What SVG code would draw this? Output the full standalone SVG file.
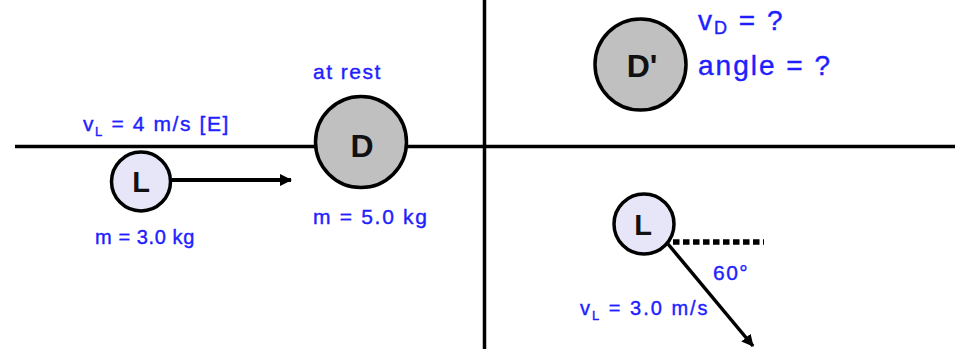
<svg xmlns="http://www.w3.org/2000/svg" width="955" height="349" viewBox="0 0 955 349">
  <defs>
    <marker id="ah" markerUnits="userSpaceOnUse" markerWidth="14" markerHeight="14" refX="11" refY="6" orient="auto">
      <path d="M0,0 L12,6 L0,12 z" fill="#000"/>
    </marker>
    <style>
      .ball { stroke: #000; stroke-width: 3.5; }
      .light { fill: #e6e6f8; }
      .gray { fill: #c0c0c0; }
      .nl { font-family: "Liberation Sans", Arial, sans-serif; font-weight: bold; fill: #111; text-anchor: middle; }
      .lbl { font-family: "Liberation Sans", Arial, sans-serif; fill: #1e1eff; stroke: #1e1eff; stroke-width: 0.4; }
      .ln { stroke: #000; stroke-width: 3.5; fill: none; }
    </style>
  </defs>
  <rect width="955" height="349" fill="#fff"/>

  <g id="axes">
    <line class="ln" x1="15" y1="146.5" x2="955" y2="146.5"/>
    <line class="ln" x1="484.5" y1="0" x2="484.5" y2="349"/>
  </g>

  <g id="connectors">
    <line x1="172" y1="180" x2="291" y2="180" stroke="#000" stroke-width="4" marker-end="url(#ah)"/>
    <line x1="668" y1="244" x2="753" y2="346" stroke="#000" stroke-width="3.5" marker-end="url(#ah)"/>
    <line x1="673" y1="242" x2="764" y2="242" stroke="#000" stroke-width="5.5" stroke-dasharray="6.5 3.5"/>
  </g>

  <g id="L-before">
    <circle class="ball light" cx="141" cy="181.5" r="29.5"/>
    <text class="nl" x="141" y="192" font-size="29">L</text>
  </g>

  <g id="D-before">
    <circle class="ball gray" cx="361" cy="142" r="45.5"/>
    <text class="nl" x="362" y="157" font-size="32">D</text>
  </g>

  <g id="D-after">
    <circle class="ball gray" cx="640.5" cy="64.5" r="45.5"/>
    <text class="nl" x="642" y="77" font-size="32">D'</text>
  </g>

  <g id="L-after">
    <circle class="ball light" cx="644" cy="224" r="30"/>
    <text class="nl" x="643" y="235" font-size="29">L</text>
  </g>

  <g id="labels">
    <text class="lbl" x="83" y="131" font-size="21" letter-spacing="1.6">v<tspan font-size="13" dy="5">L</tspan><tspan dy="-5"> = 4 m/s [E]</tspan></text>
    <text class="lbl" x="313" y="79" font-size="21" letter-spacing="1.5">at rest</text>
    <text class="lbl" x="95" y="244" font-size="20" letter-spacing="0.6">m = 3.0 kg</text>
    <text class="lbl" x="313" y="224" font-size="21" letter-spacing="1.7">m = 5.0 kg</text>
    <text class="lbl" x="698" y="30" font-size="28" letter-spacing="2">v<tspan font-size="18" dy="4">D</tspan><tspan dy="-4"> = ?</tspan></text>
    <text class="lbl" x="698" y="75" font-size="28" letter-spacing="2">angle = ?</text>
    <text class="lbl" x="713" y="280" font-size="21" letter-spacing="1.5">60°</text>
    <text class="lbl" x="580" y="315" font-size="20" letter-spacing="2">v<tspan font-size="13" dy="5">L</tspan><tspan dy="-5"> = 3.0 m/s</tspan></text>
  </g>
</svg>
